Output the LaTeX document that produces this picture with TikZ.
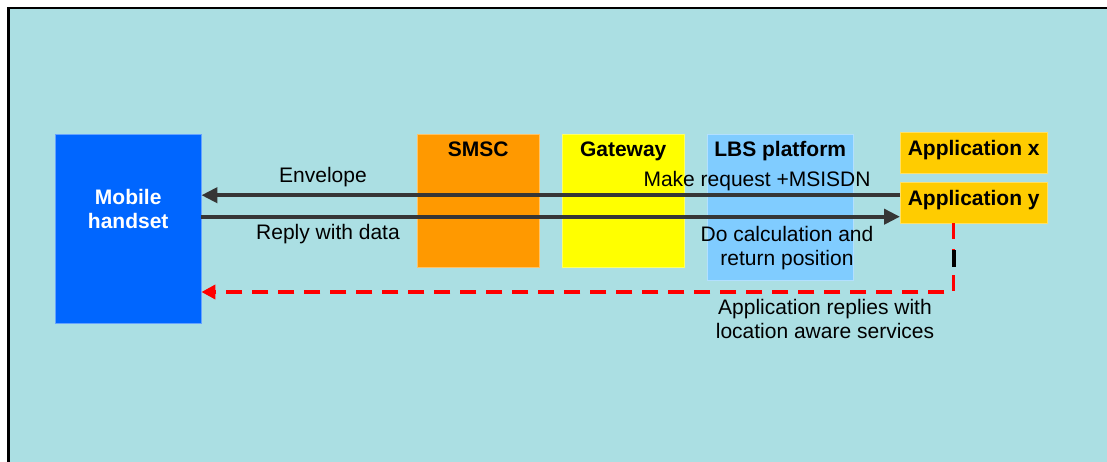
\documentclass[tikz,border=0pt]{standalone}
\usepackage{fontspec}
\setmainfont{Liberation Sans}
\usetikzlibrary{arrows.meta,positioning}

\definecolor{panel}{HTML}{ABDFE3}
\definecolor{phone}{HTML}{0066FF}
\definecolor{smscorange}{HTML}{FF9900}
\definecolor{gateyellow}{HTML}{FFFF00}
\definecolor{lbsblue}{HTML}{80CCFF}
\definecolor{appgold}{HTML}{FFCC00}
\definecolor{wire}{HTML}{363636}

\begin{document}
\begin{tikzpicture}[x=1pt,y=-1pt,
        every node/.style={font=\fontsize{21}{24}\selectfont, align=center, inner sep=0pt},
        box/.style={draw=#1!60!white, fill=#1, anchor=north west},
        title/.style={font=\fontsize{21}{24}\selectfont\bfseries},
        msg/.style={draw=wire, line width=4pt, -{Triangle[length=16pt,width=15pt]}},
        back/.style={draw=red, line width=3.5pt, dash pattern=on 16pt off 10pt, -{Triangle[length=14pt,width=14pt]}}
    ]
    \useasboundingbox (0,0) rectangle (1107,462);
    \fill[white] (0,0) rectangle (1107,462);
    \fill[panel] (8,7) rectangle (1110,465);
    \draw[line width=2.5pt] (8.5,470) -- (8.5,7.8) -- (1110,7.8);

    % Nodes
    \node (handset)[box=phone, minimum width=146pt, minimum height=189pt] at (55,134) {};
    \node (smsc)[box=smscorange, minimum width=122pt, minimum height=133pt] at (417,134) {};
    \node (gateway)[box=gateyellow, minimum width=122pt, minimum height=133pt] at (562,134) {};
    \node (lbs)[box=lbsblue, minimum width=146pt, minimum height=146pt] at (707,134) {};
    \node (appx)[box=appgold, minimum width=147pt, minimum height=41pt] at (900,132) {};
    \node (appy)[box=appgold, minimum width=147pt, minimum height=41pt] at (900,182) {};

    % Edges
    \draw[msg] ([yshift=7.5pt]appy.west) coordinate (env) -- (env -| handset.east);
    \draw[msg] ([yshift=-14pt]appy.west -| handset.east) -- ([yshift=-14pt]appy.west);
    \draw[back] ([xshift=-20pt]appy.south) coordinate (drop) -- (drop |- 0,292) coordinate (turn) -- (turn -| handset.east);
    \draw[line width=4pt] ([yshift=-27pt]drop) -- ([yshift=-44pt]drop);

    % Labels
    \node (handsettxt)[title, text=white, yshift=19.5pt] at (handset.center) {Mobile\\handset};
    \node (smsctxt)[title, below=7.5pt of smsc.north] {SMSC};
    \node (gatewaytxt)[title, below=7.5pt of gateway.north] {Gateway};
    \node (lbstxt)[title, below=7pt of lbs.north] {LBS platform};
    \node (appxtxt)[title, yshift=3pt] at (appx.center) {Application x};
    \node (appytxt)[title, yshift=3pt] at (appy.center) {Application y};

    \node (envtxt) at (323,177) {Envelope};
    \node (replytxt) at (328,234) {Reply with data};
    \node (reqtxt) at (757,181.5) {Make request +MSISDN};
    \node (calctxt) at (787,248) {Do calculation and\\return position};
    \node (servtxt) at (825,319) {Application replies with\\location aware services};

\end{tikzpicture}
\end{document}
